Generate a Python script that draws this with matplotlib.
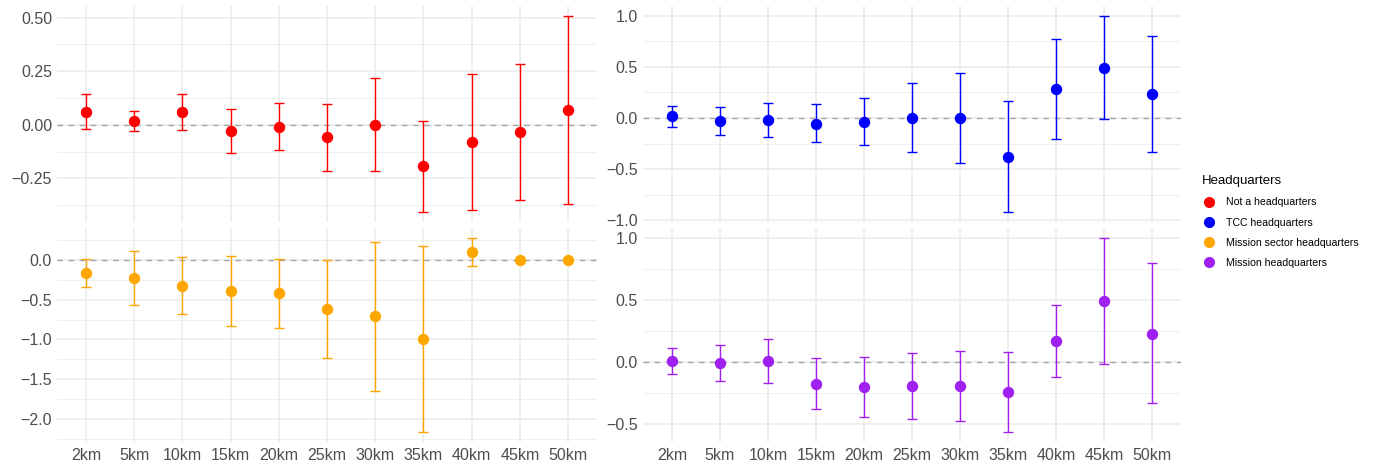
import matplotlib
matplotlib.use("Agg")
import matplotlib.pyplot as plt
from matplotlib.ticker import MultipleLocator, FormatStrFormatter
from matplotlib.lines import Line2D
import numpy as np

plt.rcParams['font.family'] = ['Liberation Sans', 'DejaVu Sans']

distances = ["2km", "5km", "10km", "15km", "20km", "25km", "30km", "35km", "40km", "45km", "50km"]

# Not a headquarters
not_hq_est = [0.062, 0.020, 0.062, -0.028, -0.011, -0.059, 0.000, -0.194, -0.081, -0.034, 0.068]
not_hq_lo = [-0.020, -0.028, -0.023, -0.130, -0.118, -0.217, -0.214, -0.407, -0.399, -0.352, -0.371]
not_hq_hi = [0.144, 0.065, 0.144, 0.075, 0.101, 0.099, 0.219, 0.019, 0.239, 0.284, 0.508]

# TCC headquarters
tcc_est = [0.016, -0.033, -0.016, -0.056, -0.042, 0.003, 0.000, -0.382, 0.281, 0.493, 0.232]
tcc_lo = [-0.088, -0.170, -0.190, -0.235, -0.268, -0.337, -0.444, -0.922, -0.209, -0.010, -0.337]
tcc_hi = [0.114, 0.105, 0.150, 0.134, 0.196, 0.340, 0.441, 0.167, 0.775, 1.000, 0.804]

# Mission sector headquarters
sector_est = [-0.167, -0.229, -0.321, -0.387, -0.417, -0.617, -0.708, -0.996, 0.104, 0.000, 0.000]
sector_lo = [-0.342, -0.571, -0.683, -0.825, -0.850, -1.233, -1.650, -2.171, -0.075, 0.000, 0.000]
sector_hi = [0.012, 0.117, 0.042, 0.054, 0.012, 0.004, 0.233, 0.183, 0.283, 0.000, 0.000]

# Mission headquarters
mission_est = [0.008, -0.011, 0.008, -0.179, -0.206, -0.198, -0.195, -0.246, 0.168, 0.492, 0.227]
mission_lo = [-0.099, -0.158, -0.174, -0.385, -0.447, -0.463, -0.479, -0.570, -0.120, -0.019, -0.334]
mission_hi = [0.112, 0.139, 0.187, 0.032, 0.040, 0.072, 0.088, 0.083, 0.460, 1.003, 0.797]

group_names = ["Not a headquarters", "TCC headquarters", "Mission sector headquarters", "Mission headquarters"]
group_colors = ["#FF0000", "#0000FF", "#FFA500", "#A020F0"]

W, H = 1380, 470
fig = plt.figure(figsize=(W / 100, H / 100), dpi=100)

def ax_at(x0, y0, x1, y1):
    return fig.add_axes([x0 / W, 1 - y1 / H, (x1 - x0) / W, (y1 - y0) / H])

panels = [
    (ax_at(57, 6, 597, 222), not_hq_est, not_hq_lo, not_hq_hi, group_colors[0], 0.25, 0.125, "%.2f", False),
    (ax_at(643, 6, 1181, 222), tcc_est, tcc_lo, tcc_hi, group_colors[1], 0.5, 0.25, "%.1f", False),
    (ax_at(57, 228, 597, 442), sector_est, sector_lo, sector_hi, group_colors[2], 0.5, 0.25, "%.1f", True),
    (ax_at(643, 228, 1181, 442), mission_est, mission_lo, mission_hi, group_colors[3], 0.5, 0.25, "%.1f", True),
]

x = np.arange(len(distances))
for ax, est, lo, hi, col, maj, mnr, fmt, show_x in panels:
    est = np.array(est); lo = np.array(lo); hi = np.array(hi)
    ax.axhline(0, color="#A6A6A6", lw=1.0, ls=(0, (4, 4)), zorder=1)
    ax.errorbar(x, est, yerr=[est - lo, hi - est], fmt="none", ecolor=col,
                elinewidth=1.0, capsize=3.5, capthick=1.0, zorder=2)
    ax.plot(x, est, "o", color=col, markersize=7.2, zorder=3)
    ax.set_xlim(-0.6, len(distances) - 0.4)
    rng = hi.max() - lo.min()
    ax.set_ylim(lo.min() - 0.05 * rng, hi.max() + 0.05 * rng)
    ax.yaxis.set_major_locator(MultipleLocator(maj))
    ax.yaxis.set_minor_locator(MultipleLocator(mnr))
    ax.set_xticks(x)
    ax.set_xticklabels(distances if show_x else [])
    ax.tick_params(axis="both", which="both", length=0, labelsize=11.5, labelcolor="#4D4D4D")
    ax.tick_params(axis="y", pad=3.6)
    ax.tick_params(axis="x", pad=4.5)
    ax.grid(True, which="major", color="#EBEBEB", lw=1.1)
    ax.grid(True, which="minor", axis="y", color="#EBEBEB", lw=0.55)
    ax.set_axisbelow(True)
    for s in ax.spines.values():
        s.set_visible(False)
    ticks = ax.get_yticks()
    ax.set_yticks(ticks)
    ax.set_yticklabels([(fmt % t).replace("-", "\u2212") for t in ticks])
    ax.set_ylim(lo.min() - 0.05 * rng, hi.max() + 0.05 * rng)

handles = [Line2D([], [], marker="o", ls="none", color=c, markersize=7) for c in group_colors]
leg = fig.legend(handles, group_names, title="Headquarters", loc="upper left",
                 bbox_to_anchor=(1198 / W, 1 - 171 / H), frameon=False,
                 fontsize=7.6, title_fontsize=9.5, handletextpad=1.1,
                 labelspacing=0.97, borderaxespad=0, handlelength=1.2)
leg._legend_box.align = "left"

fig.savefig("out.png", dpi=100)
